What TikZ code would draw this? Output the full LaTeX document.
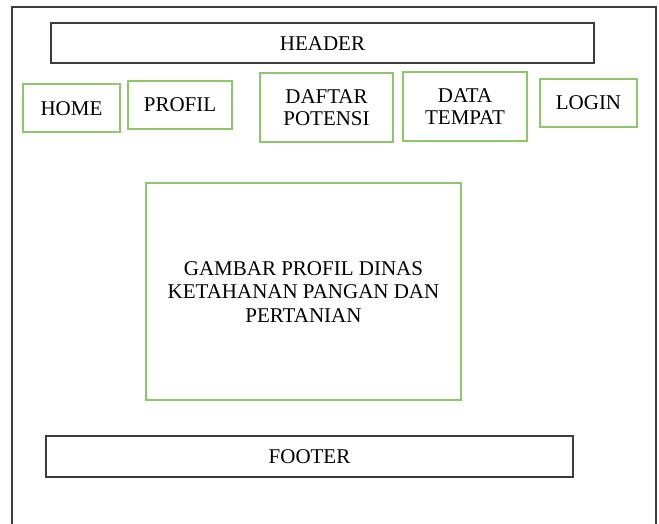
\documentclass[tikz,border=0pt]{standalone}
\usepackage{fontspec}
\setmainfont{Liberation Serif}
\definecolor{boxgreen}{RGB}{140,200,105}
\definecolor{boxgray}{RGB}{60,60,60}
\begin{document}
\begin{tikzpicture}[x=1pt,y=-1pt,
  graybox/.style={draw=boxgray,line width=1.8pt},
  greenbox/.style={draw=boxgreen,line width=1.8pt},
  lbl/.style={font=\fontsize{21}{22}\selectfont,align=center,inner sep=0pt}]
\useasboundingbox (0,0) rectangle (659,524);
% outer frame
\draw[draw=boxgray,line width=1.6pt] (12,530) -- (12,7) -- (656,7) -- (656,530);
% header
\draw[graybox] (51,23) rectangle (594,63);
\node[lbl] (header) at (322.5,44) {HEADER};
% menu boxes
\draw[greenbox] (23,84) rectangle (120,132);
\node[lbl] (home) at (71.5,109) {HOME};
\draw[greenbox] (128,81) rectangle (232,129);
\node[lbl] (profil) at (180,105) {PROFIL};
\draw[greenbox] (260,73) rectangle (393,142);
\node[lbl] (daftar) at (326.5,108) {DAFTAR\\POTENSI};
\draw[greenbox] (403,72) rectangle (527,141);
\node[lbl] (data) at (465,107) {DATA\\TEMPAT};
\draw[greenbox] (540,79) rectangle (637,127);
\node[lbl] (login) at (588.5,103) {LOGIN};
% main picture box
\draw[greenbox] (146,183) rectangle (461,400);
\node[lbl,font=\fontsize{21}{23.5}\selectfont] (gambar) at (303.5,292) {GAMBAR PROFIL DINAS\\KETAHANAN PANGAN DAN\\PERTANIAN};
% footer
\draw[graybox] (46,436) rectangle (573,477);
\node[lbl] (footer) at (309.5,457) {FOOTER};
\end{tikzpicture}
\end{document}
